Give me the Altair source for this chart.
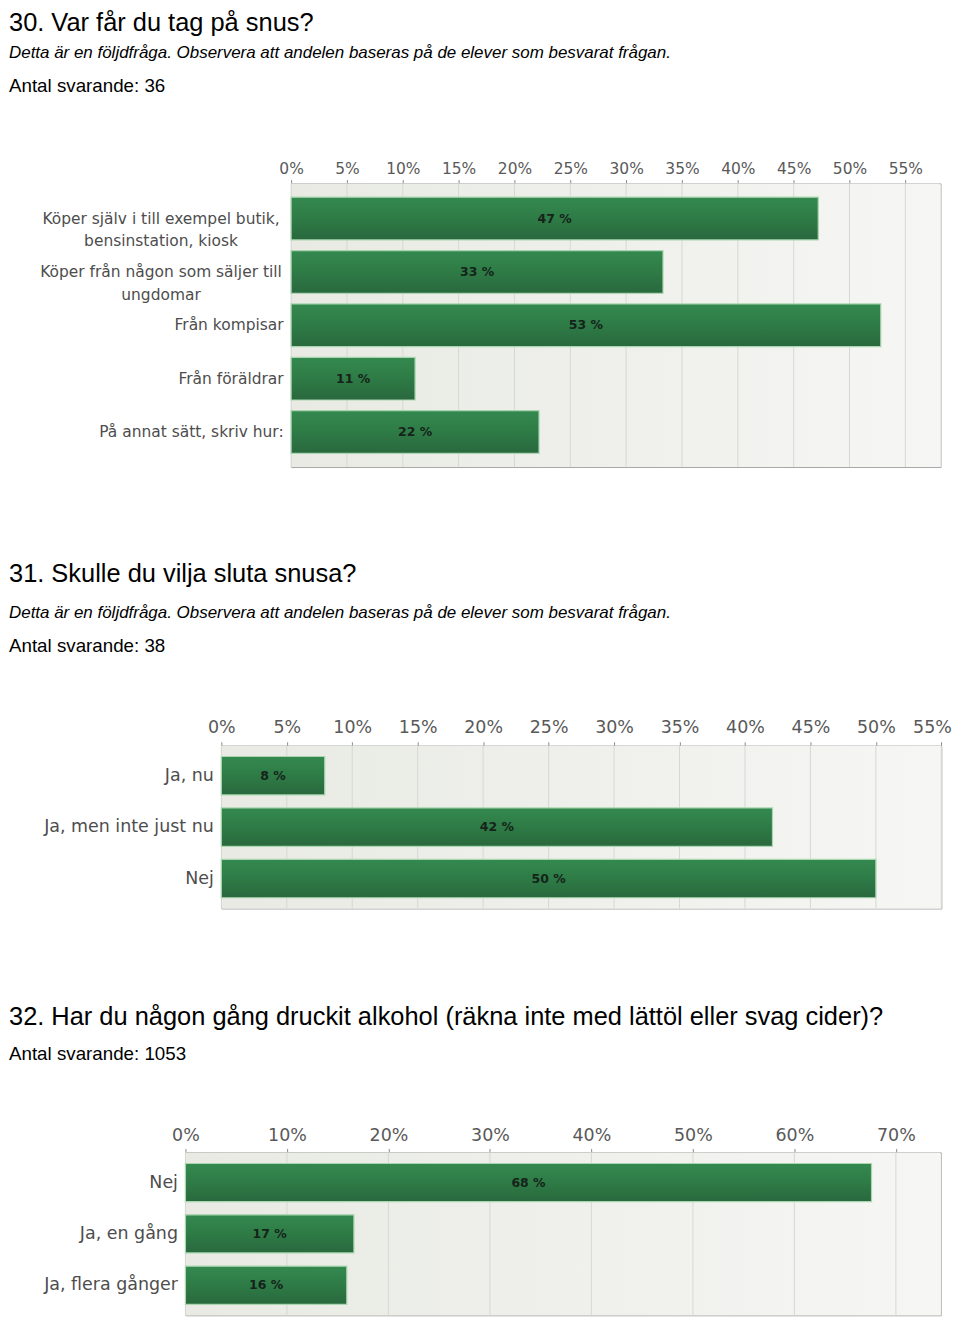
import altair as alt
import pandas as pd

# ---------------- data ----------------
titles = [
    "30. Var får du tag på snus?",
    "31. Skulle du vilja sluta snusa?",
    "32. Har du någon gång druckit alkohol (räkna inte med lättöl eller svag cider)?",
]
note = "Detta är en följdfråga. Observera att andelen baseras på de elever som besvarat frågan."
respondents = ["Antal svarande: 36", "Antal svarande: 38", "Antal svarande: 1053"]

cats1 = [
    "Köper själv i till exempel butik,|bensinstation, kiosk",
    "Köper från någon som säljer till|ungdomar",
    "Från kompisar",
    "Från föräldrar",
    "På annat sätt, skriv hur:",
]
vals1 = [47.2, 33.3, 52.8, 11.1, 22.2]
ticks1 = [0, 5, 10, 15, 20, 25, 30, 35, 40, 45, 50, 55]

cats2 = ["Ja, nu", "Ja, men inte just nu", "Nej"]
vals2 = [7.9, 42.1, 50.0]
ticks2 = [0, 5, 10, 15, 20, 25, 30, 35, 40, 45, 50, 55]

cats3 = ["Nej", "Ja, en gång", "Ja, flera gånger"]
vals3 = [67.6, 16.6, 15.9]
ticks3 = [0, 10, 20, 30, 40, 50, 60, 70]

# ---------------- styles ----------------
BAR_GRAD = alt.Gradient(
    gradient="linear", x1=0, y1=0, x2=0, y2=1,
    stops=[alt.GradientStop(color="#34894f", offset=0),
           alt.GradientStop(color="#2e7b46", offset=0.5),
           alt.GradientStop(color="#29683d", offset=1)],
)
BG_GRAD = alt.Gradient(
    gradient="linear", x1=0, y1=0, x2=1, y2=0,
    stops=[alt.GradientStop(color="#e8eae3", offset=0),
           alt.GradientStop(color="#f6f6f4", offset=1)],
)
CHART_FONT = "DejaVu Sans"
HEAD_FONT = "Liberation Sans"
WRAPPED = "indexof(datum.value, '|') >= 0"


def spacer(w):
    return alt.Chart(pd.DataFrame({"s": [""]})).mark_text().encode(
        x=alt.value(0), y=alt.value(0), text="s:N"
    ).properties(width=w, height=1, view=alt.ViewBackground(stroke="transparent"))


def bar_panel(cats, vals, ticks, xmax, width, height, p_in, p_out,
              font_size, line_h, left_extent, label_pad_top, lead,
              last_right=None, wrapped_pad=None):
    df = pd.DataFrame({"cat": cats, "val": vals})
    df["lab"] = [f"{round(v)} %" for v in vals]
    xs = alt.Scale(domain=[0, xmax], nice=False, zero=True)
    ys = alt.Scale(domain=cats, paddingInner=p_in, paddingOuter=p_out)
    xextra = {}
    if last_right is not None:
        xextra["labelAlign"] = alt.condition(
            f"datum.value == {last_right}", alt.value("right"), alt.value("center"))
        xextra["labelOffset"] = alt.condition(
            f"datum.value == {last_right}", alt.value(10), alt.value(0))
    yextra = {"labelPadding": 8}
    if wrapped_pad is not None:
        yextra["labelAlign"] = alt.condition(WRAPPED, alt.value("center"), alt.value("right"))
        yextra["labelPadding"] = alt.condition(WRAPPED, alt.value(wrapped_pad), alt.value(8))
    xaxis = alt.Axis(
        orient="top", values=ticks, labelExpr="datum.value + '%'", grid=False,
        domainColor="#8c8c8c", tickColor="#8c8c8c", tickSize=4,
        labelPadding=label_pad_top, labelFont=CHART_FONT, labelFontSize=font_size,
        labelColor="#595959", labelFlush=False, minExtent=30, maxExtent=30,
        title=None, **xextra,
    )
    yaxis = alt.Axis(
        domain=False, ticks=False, labelFont=CHART_FONT,
        labelFontSize=font_size, labelColor="#4d4d4d", labelLimit=400,
        labelLineHeight=line_h, labelExpr="split(datum.label, '|')",
        minExtent=left_extent, maxExtent=left_extent, title=None, **yextra,
    )
    bg = alt.Chart(pd.DataFrame({"a": [0]})).mark_rect(color=BG_GRAD).encode(
        x=alt.value(0), x2=alt.value(width), y=alt.value(0), y2=alt.value(height)
    )
    grid = alt.Chart(pd.DataFrame({"t": ticks})).mark_rule(
        color="#d6d8d2", strokeWidth=1
    ).encode(x=alt.X("t:Q", scale=xs, axis=xaxis))
    bars = alt.Chart(df).mark_bar(
        color=BAR_GRAD, stroke="#a9d6b0", strokeWidth=1.2
    ).encode(
        x=alt.X("val:Q", scale=xs, axis=xaxis),
        y=alt.Y("cat:N", sort=cats, scale=ys, axis=yaxis),
    )
    text = alt.Chart(df).transform_calculate(mid="datum.val / 2").mark_text(
        font=CHART_FONT, fontSize=12.5, fontWeight="bold", color="#15231a"
    ).encode(
        x=alt.X("mid:Q", scale=xs, axis=xaxis),
        y=alt.Y("cat:N", sort=cats, scale=ys, axis=yaxis),
        text="lab:N",
    )
    layered = alt.layer(bg, grid, bars, text).properties(
        width=width, height=height,
        view=alt.ViewBackground(stroke="#a8a8a8", strokeWidth=1),
    )
    return alt.hconcat(spacer(lead), layered, spacing=0)


def header(title, resp, height, y_title, y_note, y_resp, title_baseline):
    parts = []
    parts.append(
        alt.Chart(pd.DataFrame({"s": [title]})).mark_text(
            font=HEAD_FONT, fontSize=25.5, align="left", baseline=title_baseline,
            color="#000000"
        ).encode(x=alt.value(0), y=alt.value(y_title), text="s:N")
    )
    if y_note is not None:
        parts.append(
            alt.Chart(pd.DataFrame({"s": [note]})).mark_text(
                font=HEAD_FONT, fontSize=17, fontStyle="italic", align="left",
                baseline="middle", color="#000000"
            ).encode(x=alt.value(0), y=alt.value(y_note), text="s:N")
        )
    parts.append(
        alt.Chart(pd.DataFrame({"s": [resp]})).mark_text(
            font=HEAD_FONT, fontSize=18.8, align="left", baseline="middle",
            color="#000000"
        ).encode(x=alt.value(0), y=alt.value(y_resp), text="s:N")
    )
    return alt.layer(*parts).properties(
        width=900, height=height,
        view=alt.ViewBackground(stroke="transparent"),
    )


h1 = header(titles[0], respondents[0], 141.3, 0, 42.5, 75.5, "top")
c1 = bar_panel(cats1, vals1, ticks1, 58.15, 651.5, 284.4, 0.2, 0.256, 15.5, 23, 275, 3, 6.5,
               wrapped_pad=131)
h2 = header(titles[1], respondents[1], 245.3, 104.8, 143.8, 176.8, "middle")
c2 = bar_panel(cats2, vals2, ticks2, 55.0, 722.3, 163.3, 0.252, 0.209, 17.5, 20, 200, 5, 10.7,
               last_right=55)
h3 = header(titles[2], respondents[2], 210.0, 106.2, None, 143.2, "middle")
c3 = bar_panel(cats3, vals3, ticks3, 74.42, 757.7, 163.4, 0.258, 0.215, 17.5, 20, 165, 3.5, 10.3)

chart = alt.vconcat(h1, c1, h2, c2, h3, c3, spacing=0).properties(padding=0)

chart.save("out.html", embed_options={"renderer": "svg", "actions": False})
